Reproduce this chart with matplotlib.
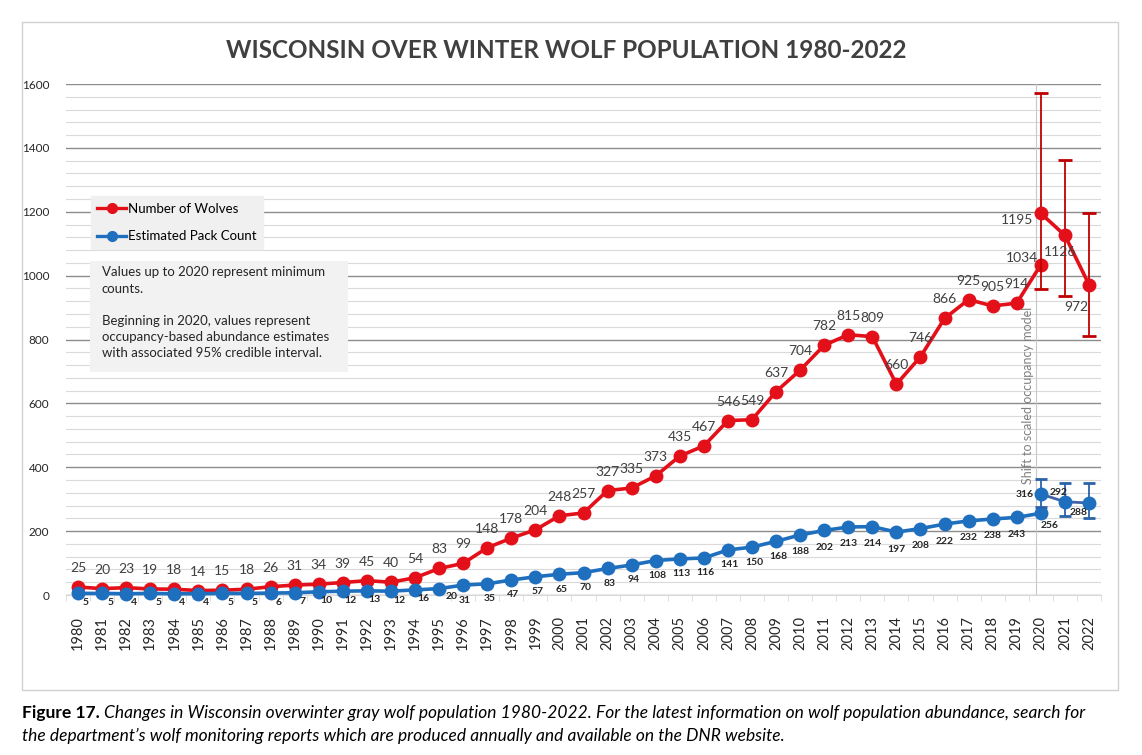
import matplotlib.pyplot as plt
from matplotlib.lines import Line2D
from matplotlib.patches import Rectangle
from matplotlib.ticker import MultipleLocator

plt.rcParams['font.family'] = ['Lato', 'DejaVu Sans']

years = list(range(1980, 2023))
wolves = [25, 20, 23, 19, 18, 14, 15, 18, 26, 31,
          34, 39, 45, 40, 54, 83, 99, 148, 178, 204,
          248, 257, 327, 335, 373, 435, 467, 546, 549, 637,
          704, 782, 815, 809, 660, 746, 866, 925, 905, 914,
          1034]
packs = [5, 5, 4, 5, 4, 4, 5, 5, 6, 7,
         10, 12, 13, 12, 16, 20, 31, 35, 47, 57,
         65, 70, 83, 94, 108, 113, 116, 141, 150, 168,
         188, 202, 213, 214, 197, 208, 222, 232, 238, 243,
         256]

# occupancy-model estimates 2020-2022 with 95% credible interval
est_years = [2020, 2021, 2022]
wolves_est = [1195, 1126, 972]
wolves_lo = [957, 937, 812]
wolves_hi = [1572, 1362, 1195]
packs_est = [316, 292, 288]
packs_lo = [276, 247, 242]
packs_hi = [363, 352, 352]

RED = '#e3101a'
BLUE = '#1f6fbf'

fig = plt.figure(figsize=(11.42, 7.55), dpi=100)
fig.patches.append(Rectangle((22 / 1142, 65 / 755), 1096 / 1142, 668 / 755,
                             transform=fig.transFigure, fill=False,
                             edgecolor='#d0d0d0', lw=1))
ax = fig.add_axes([66 / 1142, 160 / 755, 1035 / 1142, 511 / 755])

x = list(range(len(wolves)))
xe = [years.index(y) for y in est_years]

ax.plot(x, wolves, color=RED, lw=2.6, marker='o', ms=9, clip_on=False, zorder=5)
ax.plot(x, packs, color=BLUE, lw=2.6, marker='o', ms=9, clip_on=False, zorder=5)

ax.errorbar(xe, wolves_est,
            yerr=[[e - l for e, l in zip(wolves_est, wolves_lo)],
                  [h - e for e, h in zip(wolves_est, wolves_hi)]],
            color=RED, lw=2.6, marker='o', ms=9, ecolor='#c00000',
            elinewidth=1.3, capsize=5, capthick=2, zorder=6)
ax.errorbar(xe, packs_est,
            yerr=[[e - l for e, l in zip(packs_est, packs_lo)],
                  [h - e for e, h in zip(packs_est, packs_hi)]],
            color='#4162a8', mfc=BLUE, mec=BLUE, lw=2, marker='o', ms=9,
            ecolor='#2a63a8', elinewidth=1.3, capsize=4, capthick=2, zorder=6)

# data labels
for i, v in enumerate(wolves):
    off = (0, 19)
    if years[i] == 2020:
        off = (-19, 7)
    ax.annotate(str(v), (i, v), xytext=off, textcoords='offset pixels',
                ha='center', va='center', fontsize=10, color='#404040', zorder=7)
for i, v in enumerate(packs):
    if years[i] < 1995:
        off = (8, -9)
    elif years[i] < 2010:
        off = (2, -15)
    else:
        off = (0, -17)
    if years[i] == 1995:
        off = (13, -8)
    if years[i] == 2020:
        off = (9, -12)
    ax.annotate(str(v), (i, v), xytext=off, textcoords='offset pixels',
                ha='center', va='center', fontsize=7.5, fontweight='bold',
                color='#262626', zorder=7)

red_off = [(-24, -7), (-5, -17), (-13, -22)]
blue_off = [(-16, 0), (-6, 9), (-10, -9)]
for j, i in enumerate(xe):
    ax.annotate(str(wolves_est[j]), (i, wolves_est[j]), xytext=red_off[j],
                textcoords='offset pixels', ha='center', va='center',
                fontsize=10, color='#404040', zorder=7)
    ax.annotate(str(packs_est[j]), (i, packs_est[j]), xytext=blue_off[j],
                textcoords='offset pixels', ha='center', va='center',
                fontsize=7.5, fontweight='bold', color='#262626', zorder=7)

# model shift marker
shift_x = years.index(2020) - 0.2
ax.axvline(shift_x, color='#c8c8c8', lw=0.8, zorder=1)
ax.text(shift_x - 0.35, 626, 'Shift to scaled occupancy model', rotation=90,
        ha='center', va='center', fontsize=9, color='#808080', zorder=2)

ax.set_xlim(-0.5, len(years) - 0.5)
ax.set_ylim(0, 1600)
ax.set_xticks(range(len(years)))
ax.set_xticklabels([str(y) for y in years], rotation=90, fontsize=10.5,
                   color='#262626')
ax.xaxis.set_minor_locator(MultipleLocator(1, offset=0.5))
ax.tick_params(axis='x', which='major', length=0, pad=15)
ax.tick_params(axis='x', which='minor', length=4, color='#d9d9d9')
ax.yaxis.set_major_locator(MultipleLocator(200))
ax.yaxis.set_minor_locator(MultipleLocator(40))
ax.tick_params(axis='y', which='both', length=0, labelsize=8.5,
               labelcolor='#262626', pad=12)
ax.grid(axis='y', which='major', color='#8c8c8c', lw=1)
ax.grid(axis='y', which='minor', color='#dadada', lw=0.8)
ax.set_axisbelow(True)
for s in ['top', 'right', 'left']:
    ax.spines[s].set_visible(False)
ax.spines['bottom'].set_color('#d9d9d9')

fig.text(566 / 1142, 1 - 50 / 755, 'WISCONSIN OVER WINTER WOLF POPULATION 1980-2022',
         ha='center', va='center', fontsize=17.5, fontweight='bold', color='#404040')

handles = [Line2D([], [], color=RED, lw=2.4, marker='o', ms=7),
           Line2D([], [], color=BLUE, lw=2.4, marker='o', ms=7)]
leg = ax.legend(handles, ['Number of Wolves', 'Estimated Pack Count'],
                loc='upper left', bbox_to_anchor=(0.024, 0.781), fontsize=9.5,
                frameon=True, fancybox=False, facecolor='#f0f0f0', edgecolor='#f0f0f0',
                framealpha=1, handlelength=2.2, handletextpad=0.1,
                labelspacing=1.2, borderpad=0.5, borderaxespad=0)
leg.set_zorder(8)

ax.add_patch(Rectangle((0.0232, 0.436), 0.2493, 0.218, transform=ax.transAxes,
                       facecolor='#f2f2f2', edgecolor='none', zorder=8))
ax.text(0.0345, 0.643,
        'Values up to 2020 represent minimum\ncounts.\n\n'
        'Beginning in 2020, values represent\noccupancy-based abundance estimates\n'
        'with associated 95% credible interval.',
        transform=ax.transAxes, ha='left', va='top', fontsize=9.5,
        color='#262626', linespacing=1.42, zorder=9)

# caption
fig.canvas.draw()
t = fig.text(22 / 1142, 1 - 713 / 755, 'Figure 17.', fontsize=12.5, fontweight='bold',
             va='center', ha='left')
bb = t.get_window_extent(fig.canvas.get_renderer())
fig.text((bb.x1 + 4) / 1142, 1 - 713 / 755,
         'Changes in Wisconsin overwinter gray wolf population 1980-2022. For the latest '
         'information on wolf population abundance, search for',
         fontsize=12.5, style='italic', va='center', ha='left')
fig.text(22 / 1142, 1 - 736 / 755,
         'the department\u2019s wolf monitoring reports which are produced annually and '
         'available on the DNR website.',
         fontsize=12.5, style='italic', va='center', ha='left')

fig.savefig('out.png', dpi=100)
